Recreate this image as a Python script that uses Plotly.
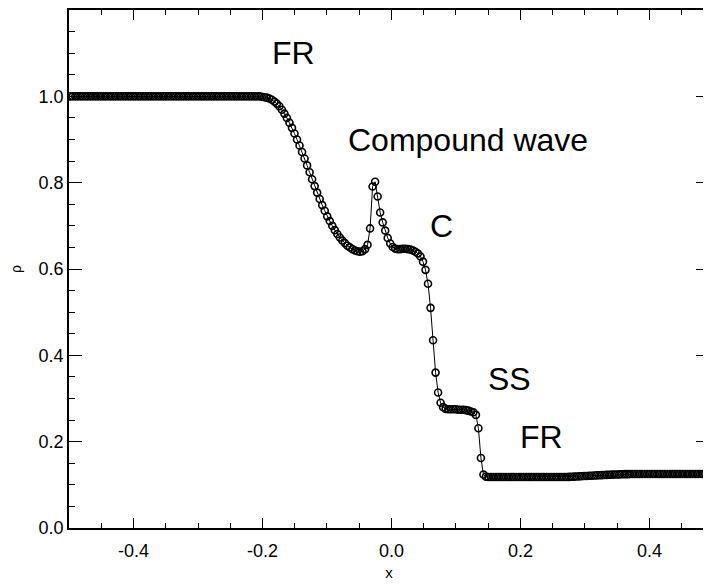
import numpy as np
import plotly.graph_objects as go

# ---- data (density profile) ----
n_cells = 256
x_min, x_max = -0.5, 0.5

rho = [
    1.0, 1.0, 1.0, 1.0, 1.0, 1.0, 1.0, 1.0, 1.0, 1.0, 1.0, 1.0, 1.0, 1.0, 1.0, 1.0,
    1.0, 1.0, 1.0, 1.0, 1.0, 1.0, 1.0, 1.0, 1.0, 1.0, 1.0, 1.0, 1.0, 1.0, 1.0, 1.0,
    1.0, 1.0, 1.0, 1.0, 1.0, 1.0, 1.0, 1.0, 1.0, 1.0, 1.0, 1.0, 1.0, 1.0, 1.0, 1.0,
    1.0, 1.0, 1.0, 1.0, 1.0, 1.0, 1.0, 1.0, 1.0, 1.0, 1.0, 1.0, 1.0, 1.0, 1.0, 1.0,
    1.0, 1.0, 1.0, 1.0, 1.0, 1.0, 1.0, 1.0, 1.0, 1.0, 1.0,
    1.000, 0.999, 0.998, 0.997, 0.995, 0.992, 0.988, 0.983, 0.977, 0.969,
    0.960, 0.950, 0.939, 0.927, 0.914, 0.900, 0.886, 0.871, 0.856, 0.840,
    0.824, 0.808, 0.792, 0.777, 0.762, 0.748, 0.735, 0.722, 0.711, 0.700,
    0.690, 0.681, 0.673, 0.666, 0.660, 0.654, 0.650, 0.646, 0.643, 0.641,
    0.640, 0.641, 0.646, 0.656, 0.694, 0.791, 0.802, 0.768, 0.731, 0.708,
    0.689, 0.672, 0.659, 0.651, 0.647, 0.646, 0.646, 0.647, 0.647, 0.646,
    0.645, 0.643, 0.640, 0.636, 0.629, 0.617, 0.598, 0.566, 0.510, 0.435,
    0.360, 0.314, 0.290, 0.280, 0.276, 0.275, 0.275, 0.275, 0.275, 0.274,
    0.274, 0.274, 0.273, 0.272, 0.270, 0.268, 0.262, 0.231, 0.162, 0.124,
    0.119,
    0.118, 0.118, 0.118, 0.118, 0.118, 0.118, 0.118, 0.118, 0.118, 0.118,
    0.118, 0.118, 0.118, 0.118, 0.118, 0.118, 0.118, 0.118, 0.118, 0.118,
    0.118, 0.118, 0.118, 0.118, 0.118, 0.118, 0.118, 0.118, 0.118, 0.118,
    0.118,
    0.1182, 0.1185, 0.1188, 0.1191, 0.1194, 0.1197, 0.1200, 0.1203, 0.1206,
    0.1209, 0.1212, 0.1215, 0.1218, 0.1221, 0.1224, 0.1227, 0.1230, 0.1233,
    0.1236, 0.1239, 0.1241, 0.1243, 0.1245, 0.1247, 0.1248, 0.1249,
    0.125, 0.125, 0.125, 0.125, 0.125, 0.125, 0.125, 0.125, 0.125, 0.125, 0.125,
    0.125, 0.125, 0.125, 0.125, 0.125, 0.125, 0.125, 0.125, 0.125, 0.125, 0.125,
    0.125, 0.125, 0.125, 0.125, 0.125, 0.125, 0.125, 0.125, 0.125, 0.125, 0.125,
]

x_tick_vals = [-0.4, -0.2, 0.0, 0.2, 0.4]
x_tick_text = ["-0.4", "-0.2", "0.0", "0.2", "0.4"]
y_tick_vals = [0.0, 0.2, 0.4, 0.6, 0.8, 1.0, 1.2]
y_tick_text = ["0.0", "0.2", "0.4", "0.6", "0.8", "1.0", "1.2"]

labels = ["FR", "Compound wave", "C", "SS", "FR"]
label_x = [-0.152, 0.118, 0.078, 0.183, 0.233]
label_y = [1.10, 0.90, 0.70, 0.345, 0.21]

# cell-centred grid
x = x_min + (np.arange(n_cells) + 0.5) * (x_max - x_min) / n_cells

FONT = "Liberation Sans, Arial, Helvetica, sans-serif"

fig = go.Figure()
fig.add_trace(go.Scatter(
    x=x, y=rho, mode="lines+markers",
    line=dict(color="black", width=1),
    marker=dict(symbol="circle-open", size=7, color="black",
                line=dict(width=1.6, color="black")),
    showlegend=False, hoverinfo="skip",
))

for t, lx, ly in zip(labels, label_x, label_y):
    fig.add_annotation(x=lx, y=ly, xref="x", yref="y", text=t, showarrow=False,
                       font=dict(family=FONT, size=32, color="black"),
                       xanchor="center", yanchor="middle")

W, H = 703, 576
ml, mt, mb = 61, 0, 56
plot_w = W - ml
x_right = -0.5 + plot_w / 647.0

fig.update_layout(
    width=W, height=H,
    margin=dict(l=ml, r=0, t=mt, b=mb, pad=0),
    paper_bgcolor="white", plot_bgcolor="white",
    font=dict(family=FONT, color="black", size=18),
    showlegend=False,
    xaxis=dict(
        range=[-0.5, x_right], showline=True, linewidth=1.5, linecolor="black",
        mirror="ticks", showgrid=False, zeroline=False,
        ticks="inside", ticklen=10, tickwidth=1.2, tickcolor="black",
        tickvals=x_tick_vals, ticktext=x_tick_text, ticklabelstandoff=6,
        tickfont=dict(family=FONT, size=18, color="black"),
        minor=dict(dtick=0.05, tick0=0, ticks="inside", ticklen=5,
                   tickwidth=1, tickcolor="black"),
        title=dict(text="x", font=dict(family=FONT, size=15, color="black"),
                   standoff=7),
    ),
    yaxis=dict(
        range=[0, 1.2], showline=True, linewidth=1.5, linecolor="black",
        mirror="ticks", showgrid=False, zeroline=False,
        ticks="inside", ticklen=13, tickwidth=1.2, tickcolor="black",
        tickvals=y_tick_vals, ticktext=y_tick_text,
        tickfont=dict(family=FONT, size=18, color="black"),
        minor=dict(dtick=0.05, tick0=0, ticks="inside", ticklen=6.5,
                   tickwidth=1, tickcolor="black"),
        title=dict(text="ρ", font=dict(family=FONT, size=14, color="black"),
                   standoff=16),
    ),
)

fig.write_html("out.html")
